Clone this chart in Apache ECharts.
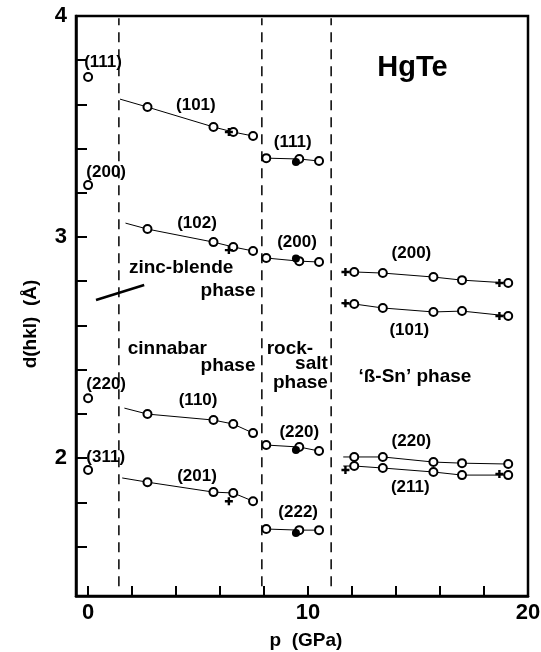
<!DOCTYPE html>
<html>
<head>
<meta charset="utf-8">
<title>HgTe d(hkl)</title>
<script src="https://cdn.jsdelivr.net/npm/echarts@6/dist/echarts.min.js"></script>
<style>
	html, body { margin: 0; padding: 0; background: #fff; }
	#chart { width: 541px; height: 652px; }
</style>
</head>
<body>
<div id="chart"></div>
<script>
	// 相界 (GPa)
	var phaseBounds = [1.4, 7.9, 11.05];

	// zinc-blende, p = 0
	var zbP = 0;
	var zbNames = ['(111)', '(200)', '(220)', '(311)'];
	var zbD = [3.724, 3.235, 2.271, 1.946];
	// 指向 zinc-blende 文字的短线
	var zbPointer = [[0.36, 2.715], [2.55, 2.783]];

	// cinnabar
	var cinP = [2.7, 5.7, 6.6, 7.5];
	var cin101 = [3.588, 3.498, 3.475, 3.457];
	var cin102 = [3.036, 2.977, 2.955, 2.937];
	var cin110 = [2.199, 2.172, 2.154, 2.113];
	var cin201 = [1.891, 1.846, 1.842, 1.805];
	// 拟合线起点
	var cinStartP = [1.45, 1.7, 1.65, 1.55];
	var cinStartD = [3.624, 3.063, 2.226, 1.910];
	// '+' 点
	var cinPlusP = 6.4;
	var cinPlusD = [3.475, 2.941, 1.805];

	// rock-salt
	var rsP = [8.1, 9.6, 10.5];
	var rs111 = [3.357, 3.353, 3.344];
	var rs200 = [2.905, 2.891, 2.887];
	var rs220 = [2.059, 2.050, 2.032];
	var rs222 = [1.679, 1.674, 1.674];
	// 实心点
	var rsFilledP = 9.45;
	var rsFilledD = [3.339, 2.903, 2.036, 1.661];

	// 'β-Sn'
	var bsP = [12.1, 13.4, 15.7, 17.0, 19.1];
	var bs200 = [2.842, 2.837, 2.819, 2.805, 2.792];
	var bs101 = [2.697, 2.679, 2.661, 2.665, 2.643];
	var bs220 = [2.005, 2.005, 1.982, 1.977, 1.973];
	var bs211 = [1.964, 1.955, 1.937, 1.923, 1.923];
	var bsStartP = 11.6;
	var bsPlusP = [11.7, 18.7];
	var bsPlus200 = [2.842, 2.792];
	var bsPlus101 = [2.701, 2.643];
	var bsPlus211 = [1.946, 1.928];

	// 刻度
	var xTicks = [0, 2, 4, 6, 8, 10, 12, 14, 16, 18];
	var xLabels = [0, 10, 20];
	var yTicks = [1.6, 1.8, 2, 2.2, 2.4, 2.6, 2.8, 3, 3.2, 3.4, 3.6, 3.8, 4];
	var yLabels = [2, 3, 4];

	// 注释文字 [文字, p, d]
	var hklText = [
		['(101)', 4.9, 3.597], ['(111)', 9.3, 3.43],
		['(102)', 4.95, 3.063], ['(200)', 9.5, 2.977],
		['(110)', 5.0, 2.262], ['(220)', 9.6, 2.118],
		['(201)', 4.95, 1.919], ['(222)', 9.55, 1.756],
		['(200)', 14.7, 2.928], ['(101)', 14.6, 2.579],
		['(220)', 14.7, 2.077], ['(211)', 14.65, 1.869]
	];
	var zbText = [
		['(111)', -0.18, 3.792], ['(200)', -0.08, 3.294],
		['(220)', -0.08, 2.334], ['(311)', -0.08, 2.004]
	];
	var phaseText = [
		['zinc-blende', 4.23, 2.86], ['phase', 6.36, 2.756],
		['cinnabar', 3.6, 2.493], ['phase', 6.36, 2.416],
		['\u2018\u00DF-Sn\u2019 phase', 14.86, 2.367]
	];
	var phaseTextRight = [
		['salt', 10.9, 2.425], ['phase', 10.9, 2.34]
	];
	var phaseTextLeft = [
		['rock-', 8.12, 2.493]
	];
	var titleText = [['HgTe', 14.75, 3.765]];

	var font = 'Liberation Sans';
	var plusPath = 'path://M3.5,0H6.5V3.5H10V6.5H6.5V10H3.5V6.5H0V3.5H3.5Z';

	function pts(ps, ds) {
		return ds.map(function(d, i){ return [ps[i], d]; });
	}

	// 空心圆 + 连线
	function lineSeries(start, ps, ds) {
		var data = [];
		if ( start ) {
			data.push({ value: start, symbol: 'none' });
		}
		data = data.concat( pts(ps, ds) );
		return {
			type: 'line',
			data: data,
			symbol: 'circle',
			symbolSize: 8,
			showSymbol: true,
			z: 3,
			itemStyle: { color: '#fff', borderColor: '#000', borderWidth: 2 },
			lineStyle: { color: '#000', width: 1 }
		};
	}

	function scatterSeries(data, symbol, size, filled) {
		return {
			type: 'scatter',
			data: data,
			symbol: symbol,
			symbolSize: size,
			z: 4,
			itemStyle: filled ?
				{ color: '#000', opacity: 1 } :
				{ color: '#fff', borderColor: '#000', borderWidth: 2, opacity: 1 }
		};
	}

	var series = [];

	// 相界虚线
	phaseBounds.forEach(function(b){
		series.push({
			type: 'line',
			data: [[b, 1.42], [b, 3.99]],
			symbol: 'none',
			z: 1,
			lineStyle: { color: '#000', width: 1.5, type: [10, 7] }
		});
	});

	// zinc-blende
	series.push( scatterSeries( zbD.map(function(d){ return [zbP, d]; }), 'circle', 8, false ) );
	series.push({
		type: 'line',
		data: zbPointer,
		symbol: 'none',
		lineStyle: { color: '#000', width: 2.5 }
	});

	// cinnabar
	[cin101, cin102, cin110, cin201].forEach(function(ds, i){
		series.push( lineSeries([cinStartP[i], cinStartD[i]], cinP, ds) );
	});
	series.push( scatterSeries( cinPlusD.map(function(d){ return [cinPlusP, d]; }), plusPath, 8, true ) );

	// rock-salt
	[rs111, rs200, rs220, rs222].forEach(function(ds){
		series.push( lineSeries(null, rsP, ds) );
	});
	series.push( scatterSeries( rsFilledD.map(function(d){ return [rsFilledP, d]; }), 'circle', 8, true ) );

	// β-Sn
	[bs200, bs101, bs220, bs211].forEach(function(ds){
		series.push( lineSeries([bsStartP, ds[0]], bsP, ds) );
	});
	[bsPlus200, bsPlus101, bsPlus211].forEach(function(ds){
		series.push( scatterSeries( pts(bsPlusP, ds), plusPath, 8, true ) );
	});

	var axisFont = { color: '#000', fontFamily: font, fontWeight: 'bold' };

	var option = {
		animation: false,
		backgroundColor: '#fff',
		grid: {
			left: 76, right: 13, top: 16, bottom: 56,
			outerBoundsMode: 'none',
			containLabel: false,
			show: true,
			borderColor: '#000',
			borderWidth: 2.5
		},
		xAxis: {
			type: 'value',
			min: -0.55,
			max: 20,
			name: 'p  (GPa)',
			nameLocation: 'middle',
			nameGap: 35,
			nameTextStyle: Object.assign({ fontSize: 19, padding: [0, 0, 0, 8] }, axisFont),
			splitLine: { show: false },
			axisLine: { show: true, onZero: false, lineStyle: { color: '#000', width: 2.5 } },
			axisTick: {
				show: true, inside: true, length: 10,
				customValues: xTicks,
				lineStyle: { color: '#000', width: 2 }
			},
			axisLabel: Object.assign({ customValues: xLabels, margin: 6, fontSize: 22 }, axisFont)
		},
		yAxis: {
			type: 'value',
			min: 1.376,
			max: 4,
			name: 'd(hkl)  (\u00C5)',
			nameLocation: 'middle',
			nameGap: 36,
			nameTextStyle: Object.assign({ fontSize: 19, padding: [0, 36, 0, 0] }, axisFont),
			splitLine: { show: false },
			axisLine: { show: true, onZero: false, lineStyle: { color: '#000', width: 2.5 } },
			axisTick: {
				show: true, inside: true, length: 11,
				customValues: yTicks,
				lineStyle: { color: '#000', width: 2 }
			},
			axisLabel: Object.assign({ customValues: yLabels, margin: 9, fontSize: 22, padding: [10, 0, 0, 0] }, axisFont)
		},
		series: series
	};

	var chart = echarts.init( document.getElementById('chart') );
	chart.setOption( option );

	// 文字注释: 数据坐标 -> 像素
	function textItems(items, size, align) {
		return items.map(function(t){
			var px = chart.convertToPixel({ gridIndex: 0 }, [t[1], t[2]]);
			return {
				type: 'text',
				x: px[0],
				y: px[1],
				z: 10,
				style: {
					text: t[0],
					fill: '#000',
					font: 'bold ' + size + 'px "' + font + '"',
					align: align || 'center',
					verticalAlign: 'middle'
				}
			};
		});
	}

	var graphic = []
		.concat( textItems(hklText, 17) )
		.concat( textItems(zbText, 17, 'left') )
		.concat( textItems(phaseText, 19) )
		.concat( textItems(phaseTextRight, 19, 'right') )
		.concat( textItems(phaseTextLeft, 19, 'left') )
		.concat( textItems(titleText, 29) );

	chart.setOption({ graphic: graphic });
</script>
</body>
</html>
